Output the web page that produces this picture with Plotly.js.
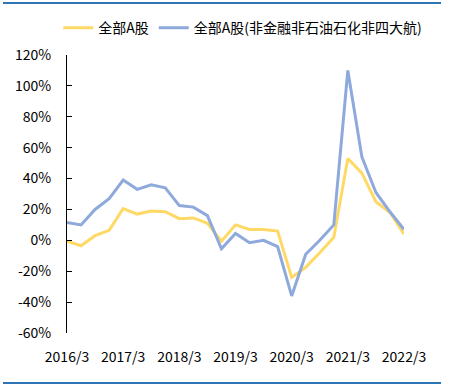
<!DOCTYPE html>
<html><head><meta charset="utf-8">
<script src="https://cdn.plot.ly/plotly-3.0.1.min.js"></script>
<style>html,body{margin:0;padding:0;background:#fff}#chart{width:451px;height:387px}</style>
</head><body><div id="chart"></div>
<script>
const quarters = ['2016/3','2016/6','2016/9','2016/12','2017/3','2017/6','2017/9','2017/12','2018/3','2018/6','2018/9','2018/12','2019/3','2019/6','2019/9','2019/12','2020/3','2020/6','2020/9','2020/12','2021/3','2021/6','2021/9','2021/12','2022/3'];
const allA = [-0.5,-3.5,3,6.5,20.5,17,19,18.5,14,14.5,11,-0.5,10,7,7,6,-24,-17.5,-8,2,53,43.5,25,18,4];
const allAEx = [11.5,10,20,27,39,33,36,34,22.5,21.5,16,-5.5,4.5,-1.5,0,-4,-36,-9,0,10,110,54,31,18.5,7];
const seriesNames = ['全部A股','全部A股(非金融非石油石化非四大航)'];
const xTickVals = ['2016/3','2017/3','2018/3','2019/3','2020/3','2021/3','2022/3'];
const yTickVals = [-60,-40,-20,0,20,40,60,80,100,120];
const yTickText = ['-60%','-40%','-20%','0%','20%','40%','60%','80%','100%','120%'];

const font = {family:'"Noto Sans CJK SC", "Noto Sans", sans-serif', size:14, color:'#000'};
const traces = [
  {x:quarters, y:allA, name:seriesNames[0], type:'scatter', mode:'lines', line:{color:'#FFD966', width:3}},
  {x:quarters, y:allAEx, name:seriesNames[1], type:'scatter', mode:'lines', line:{color:'#8EA9DB', width:3}}
];
const layout = {
  width:451, height:387,
  margin:{l:67, r:47, t:55, b:54},
  paper_bgcolor:'#fff', plot_bgcolor:'#fff',
  font:font,
  showlegend:true,
  legend:{orientation:'h', x:-0.026, xanchor:'left', y:1.097, yanchor:'middle', font:{...font, size:14}, bgcolor:'rgba(0,0,0,0)', itemwidth:30, tracegroupgap:0},
  xaxis:{type:'category', categoryorder:'array', categoryarray:quarters, range:[0,24], tickvals:xTickVals, ticktext:xTickVals,
         showline:false, ticks:'', showgrid:false, zeroline:false, tickfont:{...font, size:14}, ticklabelstandoff:14, fixedrange:true},
  xaxis2:{type:'linear', overlaying:'x', anchor:'free', position:1/3, range:[0,24], tickvals:[0,4,8,12,16,20,24],
          showticklabels:false, ticks:'inside', ticklen:5, tickcolor:'#000', showline:true, linecolor:'#000', linewidth:1, showgrid:false, zeroline:false},
  yaxis:{range:[-60,120], tickvals:yTickVals, ticktext:yTickText, showline:true, linecolor:'#000', linewidth:1,
         ticks:'inside', ticklen:5, tickcolor:'#000', showgrid:false, zeroline:false, tickfont:{...font, size:14}, ticklabelstandoff:12},
  shapes:[
    {type:'line', xref:'paper', yref:'paper', x0:(3-67)/337, x1:(441-67)/337, y0:(333-3)/278, y1:(333-3)/278, line:{color:'#2E75B6', width:2}},
    {type:'line', xref:'paper', yref:'paper', x0:(3-67)/337, x1:(441-67)/337, y0:(333-383)/278, y1:(333-383)/278, line:{color:'#2E75B6', width:2}}
  ]
};
Plotly.newPlot('chart', traces, layout, {displayModeBar:false, staticPlot:true});
</script></body></html>
